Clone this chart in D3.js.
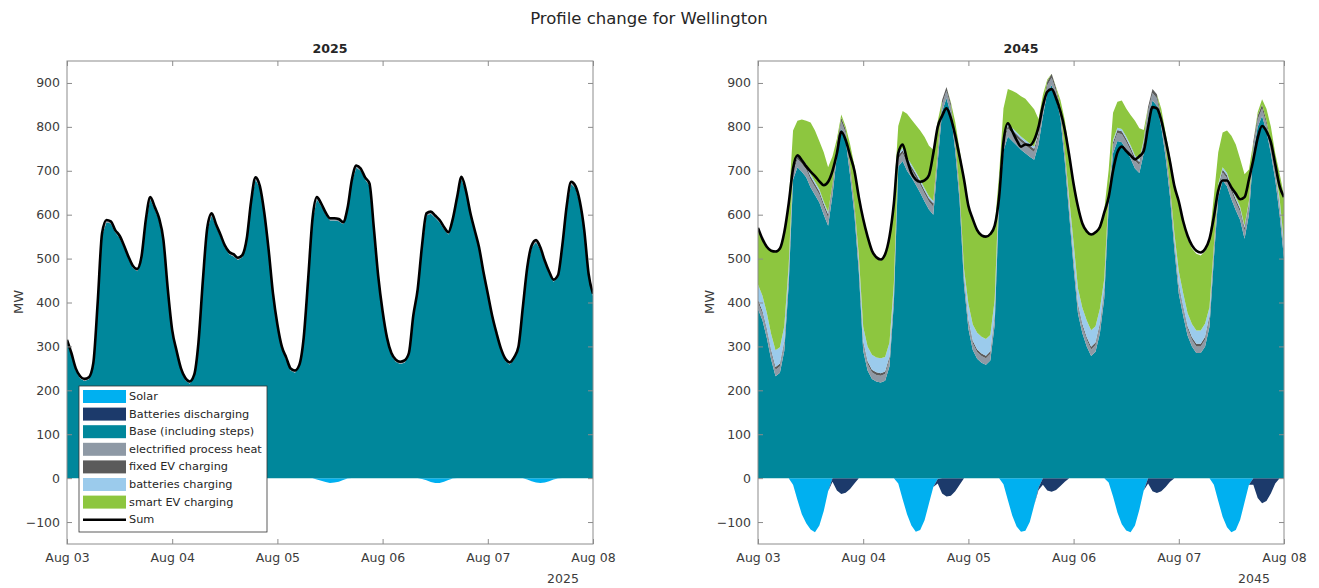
<!DOCTYPE html>
<html>
<head>
<meta charset="utf-8">
<script src="https://cdn.jsdelivr.net/npm/d3@7"></script>
<style>
  body { margin: 0; background: #fff; }
  text { font-family: "DejaVu Sans", "Liberation Sans", sans-serif; }
</style>
</head>
<body>
<svg id="chart" width="1319" height="588"></svg>
<script>
// Hourly profiles, Aug 03 00:00 to Aug 08 00:00 (121 values each), MW.
const seriesNames = [
  "Solar", "Batteries discharging", "Base (including steps)",
  "electrified process heat", "fixed EV charging", "batteries charging", "smart EV charging"
];
const seriesColors = ["#00b0f0", "#1c3a6b", "#00879b", "#8e99a5", "#5b5b5b", "#9bcbec", "#8dc63f"];
const negativeKeys = ["Solar", "Batteries discharging"];
const positiveKeys = ["Base (including steps)", "electrified process heat", "fixed EV charging",
  "batteries charging", "smart EV charging"];
const yTicks = [-100, 0, 100, 200, 300, 400, 500, 600, 700, 800, 900];
const panelYears = [2025, 2045];

// ---- 2025 ----
const base2025 = [
  310, 280, 245, 227, 221, 225, 257, 395, 553, 583, 580, 560, 547, 525, 500, 479, 471, 500, 585, 635, 613, 587, 537, 425,
  332, 285, 245, 223, 215, 230, 305, 446, 565, 598, 573, 550, 525, 510, 505, 497, 503, 540, 625, 680, 660, 600, 515, 415,
  345, 295, 270, 245, 240, 253, 315, 446, 585, 635, 620, 600, 587, 587, 585, 578, 610, 675, 707, 700, 680, 666, 565, 455,
  375, 315, 280, 265, 260, 263, 280, 365, 425, 525, 598, 602, 593, 583, 567, 555, 585, 635, 681, 650, 600, 560, 521, 465,
  415, 365, 325, 290, 267, 259, 270, 295, 385, 475, 525, 537, 520, 490, 465, 447, 457, 525, 615, 670, 660, 625, 560, 460,
  415
];
const heat2025 = [
  3, 3, 3, 3, 3, 3, 3, 4, 4, 4, 4, 4, 4, 4, 4, 4, 4, 4, 4, 4, 4, 4, 3, 3,
  3, 3, 3, 3, 3, 3, 3, 4, 4, 4, 4, 4, 4, 4, 4, 4, 4, 4, 4, 4, 4, 4, 3, 3,
  3, 3, 3, 3, 3, 3, 3, 4, 4, 4, 4, 4, 4, 4, 4, 4, 4, 4, 4, 4, 4, 4, 3, 3,
  3, 3, 3, 3, 3, 3, 3, 4, 4, 4, 4, 4, 4, 4, 4, 4, 4, 4, 4, 4, 4, 4, 3, 3,
  3, 3, 3, 3, 3, 3, 3, 4, 4, 4, 4, 4, 4, 4, 4, 4, 4, 4, 4, 4, 4, 4, 3, 3,
  3
];
const fixedEv2025 = [
  2, 2, 2, 2, 2, 2, 2, 2, 2, 2, 2, 2, 2, 2, 2, 2, 2, 3, 3, 3, 3, 2, 2, 2,
  2, 2, 2, 2, 2, 2, 2, 2, 2, 2, 2, 2, 2, 2, 2, 2, 2, 3, 3, 3, 3, 2, 2, 2,
  2, 2, 2, 2, 2, 2, 2, 2, 2, 2, 2, 2, 2, 2, 2, 2, 2, 3, 3, 3, 3, 2, 2, 2,
  2, 2, 2, 2, 2, 2, 2, 2, 2, 2, 2, 2, 2, 2, 2, 2, 2, 3, 3, 3, 3, 2, 2, 2,
  2, 2, 2, 2, 2, 2, 2, 2, 2, 2, 2, 2, 2, 2, 2, 2, 2, 3, 3, 3, 3, 2, 2, 2,
  2
];
const solar2025 = [
  0, 0, 0, 0, 0, 0, 0, 0, 0, -2, -5, -8, -10, -10, -8, -4, -1, 0, 0, 0, 0, 0, 0, 0,
  0, 0, 0, 0, 0, 0, 0, 0, 0, -2, -6, -9, -10, -9, -7, -3, -1, 0, 0, 0, 0, 0, 0, 0,
  0, 0, 0, 0, 0, 0, 0, 0, 0, -3, -6, -9, -11, -10, -8, -4, -1, 0, 0, 0, 0, 0, 0, 0,
  0, 0, 0, 0, 0, 0, 0, 0, 0, -2, -5, -9, -11, -11, -8, -4, -1, 0, 0, 0, 0, 0, 0, 0,
  0, 0, 0, 0, 0, 0, 0, 0, 0, -3, -7, -10, -11, -10, -7, -3, -1, 0, 0, 0, 0, 0, 0, 0,
  0
];
const batteryDischarge2025 = [];
const batteryCharge2025 = [];
const smartEv2025 = [];
const sum2025 = [
  315, 285, 250, 232, 226, 230, 262, 400, 558, 588, 585, 565, 552, 530, 505, 484, 476, 505, 590, 640, 618, 592, 542, 430,
  337, 290, 250, 228, 220, 235, 310, 451, 570, 603, 578, 555, 530, 515, 510, 502, 508, 545, 630, 685, 665, 605, 520, 420,
  350, 300, 275, 250, 245, 258, 320, 451, 590, 640, 625, 605, 592, 592, 590, 583, 615, 680, 712, 705, 685, 671, 570, 460,
  380, 320, 285, 270, 265, 268, 285, 370, 430, 530, 603, 607, 598, 588, 572, 560, 590, 640, 686, 655, 605, 565, 526, 470,
  420, 370, 330, 295, 272, 264, 275, 300, 390, 480, 530, 542, 525, 495, 470, 452, 462, 530, 620, 675, 665, 630, 565, 465,
  420
];

// ---- 2045 ----
const base2045 = [
  385, 360, 320, 270, 232, 240, 290, 440, 680, 708, 698, 685, 662, 645, 628, 600, 575, 645, 735, 795, 770, 690, 600, 470,
  290, 245, 226, 220, 218, 222, 255, 400, 710, 722, 700, 685, 668, 650, 630, 612, 600, 720, 835, 865, 830, 745, 630, 440,
  340, 292, 272, 263, 258, 268, 350, 630, 745, 778, 768, 758, 748, 740, 732, 725, 760, 825, 878, 895, 865, 820, 720, 600,
  480, 375, 330, 300, 278, 288, 330, 410, 620, 740, 768, 765, 748, 728, 705, 695, 740, 820, 860, 848, 800, 730, 640, 520,
  420, 370, 325, 300, 285, 285, 300, 345, 500, 640, 678, 665, 635, 610, 588, 545, 600, 740, 800, 825, 790, 740, 680, 600,
  500
];
const heat2045 = [
  15, 15, 15, 15, 15, 15, 16, 17, 18, 18, 18, 18, 18, 18, 18, 18, 18, 17, 17, 17, 16, 16, 16, 15,
  15, 15, 15, 15, 15, 15, 16, 17, 18, 18, 18, 18, 18, 18, 18, 18, 18, 17, 17, 17, 16, 16, 16, 15,
  15, 15, 15, 15, 15, 15, 16, 17, 18, 18, 18, 18, 18, 18, 18, 18, 18, 17, 17, 17, 16, 16, 16, 15,
  15, 15, 15, 15, 15, 15, 16, 17, 18, 18, 18, 18, 18, 18, 18, 18, 18, 17, 17, 17, 16, 16, 16, 15,
  15, 15, 15, 15, 15, 15, 16, 17, 18, 18, 18, 18, 18, 18, 18, 18, 18, 17, 17, 17, 16, 16, 16, 15,
  15
];
const fixedEv2045 = [
  6, 6, 6, 6, 6, 6, 6, 7, 7, 7, 7, 7, 7, 7, 7, 7, 8, 9, 9, 9, 8, 8, 7, 7,
  6, 6, 6, 6, 6, 6, 6, 7, 7, 7, 7, 7, 7, 7, 7, 7, 8, 9, 9, 9, 8, 8, 7, 7,
  6, 6, 6, 6, 6, 6, 6, 7, 7, 7, 7, 7, 7, 7, 7, 7, 8, 9, 9, 9, 8, 8, 7, 7,
  6, 6, 6, 6, 6, 6, 6, 7, 7, 7, 7, 7, 7, 7, 7, 7, 8, 9, 9, 9, 8, 8, 7, 7,
  6, 6, 6, 6, 6, 6, 6, 7, 7, 7, 7, 7, 7, 7, 7, 7, 8, 9, 9, 9, 8, 8, 7, 7,
  6
];
const batteryCharge2045 = [
  35, 35, 36, 37, 38, 37, 34, 20, 5, 5, 5, 5, 5, 5, 5, 5, 5, 0, 0, 0, 0, 0, 0, 15,
  34, 34, 34, 34, 34, 33, 32, 20, 5, 5, 5, 5, 5, 5, 5, 5, 5, 0, 0, 0, 0, 0, 0, 15,
  36, 37, 38, 38, 38, 37, 34, 20, 5, 5, 5, 5, 5, 5, 5, 5, 5, 0, 0, 0, 0, 0, 0, 15,
  35, 36, 37, 38, 38, 37, 34, 20, 5, 5, 5, 5, 5, 5, 5, 5, 5, 0, 0, 0, 0, 0, 0, 15,
  30, 30, 30, 30, 30, 30, 30, 20, 5, 5, 5, 5, 5, 5, 5, 5, 5, 0, 0, 0, 0, 0, 0, 15,
  15
];
const smartEv2045 = [
  127, 127, 149, 190, 226, 225, 212, 142, 82, 76, 89, 99, 118, 117, 109, 112, 102, 62, 12, 7, 7, 47, 89, 132,
  242, 247, 234, 225, 222, 230, 237, 197, 62, 84, 100, 102, 106, 112, 117, 115, 117, 67, 0, 0, 2, 42, 95, 207,
  227, 240, 235, 232, 234, 230, 167, 17, 67, 78, 84, 89, 92, 94, 90, 85, 27, 22, 4, 0, 2, 17, 72, 107,
  134, 185, 192, 204, 219, 214, 184, 157, 52, 62, 59, 65, 64, 69, 79, 72, 22, 0, 0, 0, 17, 32, 69, 110,
  152, 157, 169, 172, 175, 171, 164, 157, 112, 72, 79, 97, 115, 120, 109, 117, 72, 0, 7, 12, 27, 37, 37, 57,
  107
];
const solar2045 = [
  0, 0, 0, 0, 0, 0, 0, 0, -15, -50, -82, -103, -117, -123, -108, -75, -30, 0, 0, 0, 0, 0, 0, 0,
  0, 0, 0, 0, 0, 0, 0, 0, -12, -48, -82, -108, -122, -118, -96, -58, -20, -2, 0, 0, 0, 0, 0, 0,
  0, 0, 0, 0, 0, 0, 0, 0, -14, -50, -85, -110, -122, -120, -100, -62, -22, 0, 0, 0, 0, 0, 0, 0,
  0, 0, 0, 0, 0, 0, 0, 0, -10, -42, -78, -105, -119, -123, -108, -72, -28, 0, 0, 0, 0, 0, 0, 0,
  0, 0, 0, 0, 0, 0, 0, 0, -15, -52, -88, -112, -123, -118, -95, -55, -15, 0, 0, 0, 0, 0, 0, 0,
  0
];
const batteryDischarge2045 = [
  0, 0, 0, 0, 0, 0, 0, 0, 0, 0, 0, 0, 0, 0, 0, 0, 0, -8, -28, -36, -33, -25, -12, 0,
  0, 0, 0, 0, 0, 0, 0, 0, 0, 0, 0, 0, 0, 0, 0, 0, 0, -10, -35, -42, -40, -30, -15, 0,
  0, 0, 0, 0, 0, 0, 0, 0, 0, 0, 0, 0, 0, 0, 0, 0, -5, -15, -28, -31, -27, -18, -8, 0,
  0, 0, 0, 0, 0, 0, 0, 0, 0, 0, 0, 0, 0, 0, 0, 0, 0, -12, -30, -34, -30, -20, -8, 0,
  0, 0, 0, 0, 0, 0, 0, 0, 0, 0, 0, 0, 0, 0, 0, 0, 0, -15, -45, -57, -52, -35, -12, 0,
  0
];
const sum2045 = [
  570, 545, 527, 518, 516, 523, 560, 625, 705, 735, 724, 710, 698, 688, 676, 667, 675, 700, 740, 789, 770, 735, 700, 640,
  590, 550, 518, 503, 498, 510, 550, 626, 740, 760, 725, 695, 680, 675, 678, 690, 740, 800, 825, 842, 820, 780, 732, 680,
  620, 590, 565, 553, 550, 556, 575, 640, 765, 808, 790, 770, 755, 760, 758, 770, 800, 848, 880, 886, 865, 835, 793, 735,
  670, 618, 580, 562, 555, 560, 572, 605, 640, 700, 742, 755, 745, 735, 726, 733, 745, 800, 845, 842, 815, 770, 720, 665,
  630, 585, 552, 530, 518, 514, 522, 545, 595, 655, 678, 678, 662, 648, 635, 640, 680, 725, 775, 802, 790, 765, 715, 665,
  640
];

const panelSeries = {
  2025: [solar2025, batteryDischarge2025, base2025, heat2025, fixedEv2025, batteryCharge2025, smartEv2025],
  2045: [solar2045, batteryDischarge2045, base2045, heat2045, fixedEv2045, batteryCharge2045, smartEv2045]
};
const panelSums = { 2025: sum2025, 2045: sum2045 };

// ---- layout ----
const svg = d3.select("#chart");
const plotTop = 61, plotBottom = 544;
const panelBounds = [[67, 593], [758, 1284]];
const axisGrey = "#8c8c8c";
const textGrey = "#3c3c3c";
const colorOf = name => seriesColors[seriesNames.indexOf(name)];

svg.append("text")
  .attr("x", 649).attr("y", 24)
  .attr("text-anchor", "middle")
  .attr("font-size", 16.5)
  .attr("fill", "#262626")
  .text("Profile change for Wellington");

const y = d3.scaleLinear().domain([-150, 950]).range([plotBottom, plotTop]);

panelYears.forEach((year, p) => {
  const [left, right] = panelBounds[p];
  const start = new Date(Date.UTC(year, 7, 3));
  const end = new Date(Date.UTC(year, 7, 8));
  const x = d3.scaleUtc().domain([start, end]).range([left, right]);

  const cols = panelSeries[year];
  const sums = panelSums[year];
  const rows = sums.map((s, i) => {
    const r = { date: new Date(Date.UTC(year, 7, 3, i)), sum: s };
    seriesNames.forEach((name, k) => { r[name] = cols[k][i] ?? 0; });
    return r;
  });

  const g = svg.append("g");
  const clipId = "clip" + year;
  g.append("clipPath").attr("id", clipId)
    .append("rect").attr("x", left).attr("y", plotTop)
    .attr("width", right - left).attr("height", plotBottom - plotTop);

  // supply stacks upward from zero, solar and battery output stack downward
  const layers = d3.stack().keys(negativeKeys)(rows)
    .concat(d3.stack().keys(positiveKeys)(rows));

  const area = d3.area()
    .x(d => x(d.data.date))
    .y0(d => y(d[0]))
    .y1(d => y(d[1]))
    .curve(d3.curveLinear);

  const plot = g.append("g").attr("clip-path", `url(#${clipId})`);
  plot.selectAll("path.layer")
    .data(layers)
    .join("path")
    .attr("class", "layer")
    .attr("fill", d => colorOf(d.key))
    .attr("d", area);

  const line = d3.line()
    .x(d => x(d.date))
    .y(d => y(d.sum))
    .curve(d3.curveMonotoneX);
  plot.append("path")
    .datum(rows)
    .attr("fill", "none")
    .attr("stroke", "#000")
    .attr("stroke-width", 2.6)
    .attr("stroke-linejoin", "round")
    .attr("d", line);

  // axes with inward ticks on all four sides
  const fmt = d3.utcFormat("%b %d");
  const dayTicks = d3.utcDay.range(start, d3.utcDay.offset(end, 1));

  const styleAxis = sel => {
    sel.select(".domain").remove();
    sel.selectAll(".tick line").attr("stroke", axisGrey);
    sel.selectAll(".tick text").attr("fill", textGrey).attr("font-size", 12.5)
      .attr("font-family", "DejaVu Sans, sans-serif");
  };

  g.append("g").attr("transform", `translate(${left},0)`)
    .call(d3.axisLeft(y).tickValues(yTicks).tickSize(-5).tickPadding(7))
    .call(styleAxis);
  g.append("g").attr("transform", `translate(${right},0)`)
    .call(d3.axisRight(y).tickValues(yTicks).tickSize(-5).tickFormat(""))
    .call(styleAxis);
  g.append("g").attr("transform", `translate(0,${plotBottom})`)
    .call(d3.axisBottom(x).tickValues(dayTicks).tickFormat(fmt).tickSize(-5).tickPadding(9))
    .call(styleAxis);
  g.append("g").attr("transform", `translate(0,${plotTop})`)
    .call(d3.axisTop(x).tickValues(dayTicks).tickSize(-5).tickFormat(""))
    .call(styleAxis);

  g.append("rect")
    .attr("x", left).attr("y", plotTop)
    .attr("width", right - left).attr("height", plotBottom - plotTop)
    .attr("fill", "none").attr("stroke", axisGrey).attr("stroke-width", 1);

  // subplot title, year note and y label
  g.append("text")
    .attr("x", (left + right) / 2).attr("y", 52.5)
    .attr("text-anchor", "middle").attr("font-weight", "bold")
    .attr("font-size", 12.6).attr("fill", "#262626")
    .text(String(year));
  g.append("text")
    .attr("x", right - 30).attr("y", 582.5)
    .attr("text-anchor", "middle").attr("font-size", 12.5).attr("fill", textGrey)
    .text(String(year));
  g.append("text")
    .attr("transform", `translate(${left - 49},302) rotate(-90)`)
    .attr("text-anchor", "middle").attr("dominant-baseline", "central")
    .attr("font-size", 13).attr("fill", textGrey)
    .text("MW");
});

// legend inside the 2025 panel
const legend = svg.append("g");
const legendRows = seriesNames.concat(["Sum"]);
legend.append("rect")
  .attr("x", 79).attr("y", 386).attr("width", 188).attr("height", 146)
  .attr("fill", "#fff").attr("stroke", "#333").attr("stroke-width", 0.8);
legendRows.forEach((name, i) => {
  const cy = 396.5 + i * 17.6;
  if (i < seriesNames.length) {
    legend.append("rect")
      .attr("x", 83).attr("y", cy - 6.5).attr("width", 43).attr("height", 13)
      .attr("fill", seriesColors[i]);
  } else {
    legend.append("line")
      .attr("x1", 83).attr("x2", 126).attr("y1", cy).attr("y2", cy)
      .attr("stroke", "#000").attr("stroke-width", 2.6);
  }
  legend.append("text")
    .attr("x", 129).attr("y", cy)
    .attr("dominant-baseline", "central")
    .attr("font-size", 11.3).attr("fill", "#262626")
    .text(name);
});
</script>
</body>
</html>
